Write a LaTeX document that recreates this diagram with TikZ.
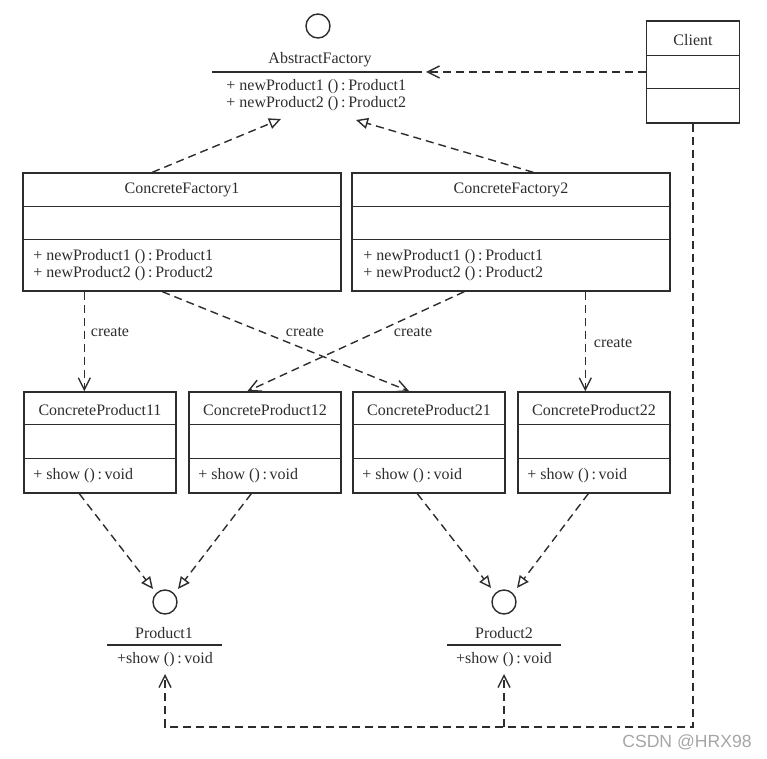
\documentclass[tikz,border=0pt]{standalone}
\usepackage{fontspec}
\setmainfont{Liberation Serif}
\newfontfamily\wmfont{Liberation Sans}
\usetikzlibrary{arrows.meta,calc}

\definecolor{ink}{RGB}{45,45,45}

\tikzset{
  cls/.style={draw=ink, line width=0.7pt, inner sep=0pt},
  sep/.style={draw=ink, line width=0.7pt},
  txt/.style={inner sep=0pt, text=ink, font=\fontsize{8}{9.6}\selectfont},
  iface/.style={circle, draw=ink, line width=0.7pt, minimum size=12pt, inner sep=0pt},
  dep/.style={draw=ink, line width=0.7pt, dash pattern=on 4pt off 2.5pt,
    -{Straight Barb[length=6pt,width=6pt]}},
  real/.style={draw=ink, line width=0.7pt, dash pattern=on 4pt off 2.5pt,
    -{Triangle[open,length=6pt,width=5.5pt]}},
}

\begin{document}
\begin{tikzpicture}[x=0.5pt,y=-0.5pt]
\useasboundingbox (0,0) rectangle (767,759);

% abstract factory
 \node[iface] (afc) at (318,26) {};
 \node[txt] (afname) at (320,60) {AbstractFactory};
\draw[sep] (212,72) -- (422,72);
 \node[txt, anchor=west] (afm1) at (226,87) {+ newProduct1 ()\,:\,Product1};
 \node[txt, anchor=west] (afm2) at (226,104) {+ newProduct2 ()\,:\,Product2};
\coordinate (aftip) at (426,72);
\coordinate (afin1) at (281,119);
\coordinate (afin2) at (356,120);

% client
\node[cls, minimum width=46.5pt, minimum height=51pt] (client) at (693,72) {};
\draw[sep] ($(client.north west)+(0,35)$) -- ($(client.north east)+(0,35)$);
\draw[sep] ($(client.north west)+(0,68)$) -- ($(client.north east)+(0,68)$);
 \node[txt] (clientname) at (693,40) {Client};

% factories
\node[cls, minimum width=159pt, minimum height=59pt] (cf1) at (182,232) {};
\draw[sep] ($(cf1.north west)+(0,34)$) -- ($(cf1.north east)+(0,34)$);
\draw[sep] ($(cf1.north west)+(0,67)$) -- ($(cf1.north east)+(0,67)$);
 \node[txt] (cf1name) at (182,190) {ConcreteFactory1};
 \node[txt, anchor=west] (cf1m1) at (33,257) {+ newProduct1 ()\,:\,Product1};
 \node[txt, anchor=west] (cf1m2) at (33,274) {+ newProduct2 ()\,:\,Product2};

\node[cls, minimum width=159pt, minimum height=59pt] (cf2) at (511,232) {};
\draw[sep] ($(cf2.north west)+(0,34)$) -- ($(cf2.north east)+(0,34)$);
\draw[sep] ($(cf2.north west)+(0,67)$) -- ($(cf2.north east)+(0,67)$);
 \node[txt] (cf2name) at (511,190) {ConcreteFactory2};
 \node[txt, anchor=west] (cf2m1) at (363,257) {+ newProduct1 ()\,:\,Product1};
 \node[txt, anchor=west] (cf2m2) at (363,274) {+ newProduct2 ()\,:\,Product2};

% products
\node[cls, minimum width=76pt, minimum height=50.5pt] (cp11) at (100,442.5) {};
\draw[sep] ($(cp11.north west)+(0,33)$) -- ($(cp11.north east)+(0,33)$);
\draw[sep] ($(cp11.north west)+(0,67)$) -- ($(cp11.north east)+(0,67)$);
 \node[txt] (cp11name) at (100,410) {ConcreteProduct11};
 \node[txt, anchor=west] (cp11m) at (33,476) {+ show ()\,:\,void};

\node[cls, minimum width=76pt, minimum height=50.5pt] (cp12) at (265,442.5) {};
\draw[sep] ($(cp12.north west)+(0,33)$) -- ($(cp12.north east)+(0,33)$);
\draw[sep] ($(cp12.north west)+(0,67)$) -- ($(cp12.north east)+(0,67)$);
 \node[txt] (cp12name) at (265,410) {ConcreteProduct12};
 \node[txt, anchor=west] (cp12m) at (198,476) {+ show ()\,:\,void};

\node[cls, minimum width=76pt, minimum height=50.5pt] (cp21) at (429,442.5) {};
\draw[sep] ($(cp21.north west)+(0,33)$) -- ($(cp21.north east)+(0,33)$);
\draw[sep] ($(cp21.north west)+(0,67)$) -- ($(cp21.north east)+(0,67)$);
 \node[txt] (cp21name) at (429,410) {ConcreteProduct21};
 \node[txt, anchor=west] (cp21m) at (362,476) {+ show ()\,:\,void};

\node[cls, minimum width=76pt, minimum height=50.5pt] (cp22) at (594,442.5) {};
\draw[sep] ($(cp22.north west)+(0,33)$) -- ($(cp22.north east)+(0,33)$);
\draw[sep] ($(cp22.north west)+(0,67)$) -- ($(cp22.north east)+(0,67)$);
 \node[txt] (cp22name) at (594,410) {ConcreteProduct22};
 \node[txt, anchor=west] (cp22m) at (527,476) {+ show ()\,:\,void};

% product interfaces
 \node[iface] (p1c) at (165,602) {};
 \node[txt] (p1name) at (164,633) {Product1};
\draw[sep] (107,645) -- (222,645);
 \node[txt] (p1op) at (165,660) {+show ()\,:\,void};

 \node[iface] (p2c) at (504,602) {};
 \node[txt] (p2name) at (504,633) {Product2};
\draw[sep] (447,645) -- (561,645);
 \node[txt] (p2op) at (504,660) {+show ()\,:\,void};

\coordinate (p1l) at (153,589);
\coordinate (p1r) at (178,589);
\coordinate (p2l) at (491,588);
\coordinate (p2r) at (517,588);
\coordinate (p1tip) at (165,674);
\coordinate (p2tip) at (504,674);
\coordinate (bus) at (165,727);

% connectors
\draw[dep] (client.west) -- (aftip);
\draw[real] ($(cf1.north west)+(130,0)$) -- (afin1);
\draw[real] ($(cf2.north west)+(182,0)$) -- (afin2);

\draw[dep] ($(cf1.south west)+(62,0)$) -- ($(cp11.north west)+(61,0)$);
\draw[dep] ($(cf1.south west)+(140,0)$) -- ($(cp21.north west)+(57,0)$);
\draw[dep] ($(cf2.south west)+(113,0)$) -- ($(cp12.north west)+(59,0)$);
\draw[dep] ($(cf2.south west)+(234,0)$) -- ($(cp22.north west)+(68,0)$);
 \node[txt] (cr1) at (110,332) {create};
 \node[txt] (cr2) at (305,332) {create};
 \node[txt] (cr3) at (413,332) {create};
 \node[txt] (cr4) at (613,343) {create};

\draw[real] ($(cp11.south west)+(56,0)$) -- (p1l);
\draw[real] ($(cp12.south west)+(63,0)$) -- (p1r);
\draw[real] ($(cp21.south west)+(65,0)$) -- (p2l);
\draw[real] ($(cp22.south west)+(71,0)$) -- (p2r);

\draw[dep] (client.south) |- (bus) -- (p1tip);
\draw[dep] (p2tip |- bus) -- (p2tip);

 \node[inner sep=0pt, text=gray!70, font=\wmfont\fontsize{8.8}{10}\selectfont] (wm) at (687,742) {CSDN @HRX98};

\end{tikzpicture}
\end{document}
